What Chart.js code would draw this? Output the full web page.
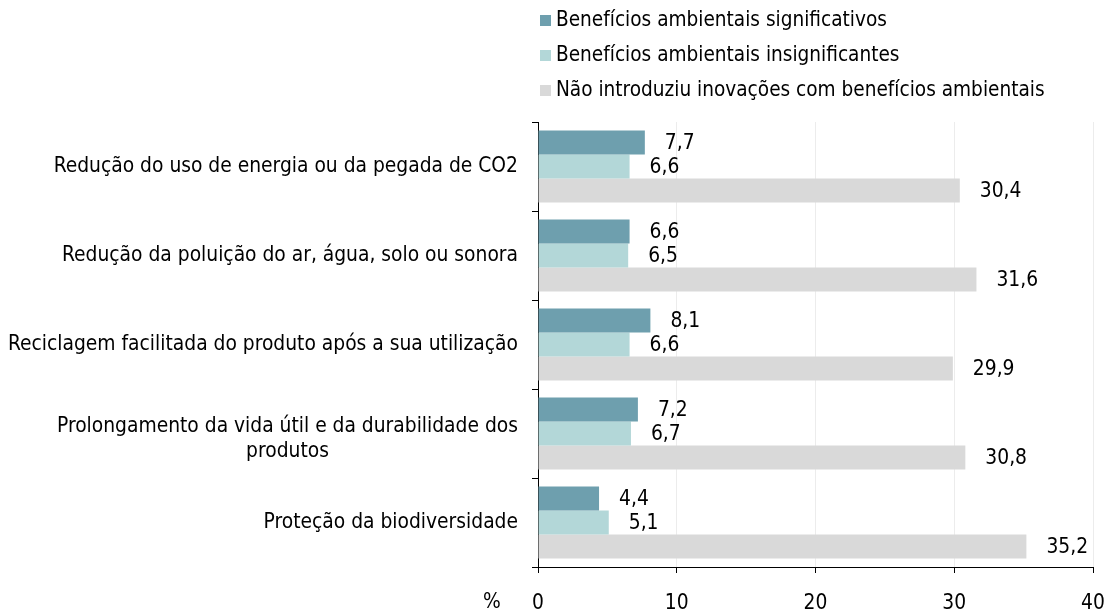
<!DOCTYPE html>
<html><head><meta charset="utf-8">
<script src="https://cdn.jsdelivr.net/npm/chart.js@4.4.1/dist/chart.umd.min.js"></script>
<style>html,body{margin:0;padding:0;background:#fff;}#wrap{width:1108px;height:611px;position:relative;}</style>
</head><body><div id="wrap"><canvas id="c" width="1108" height="611"></canvas></div>
<script>
const categories = [
  ["Redução do uso de energia ou da pegada de CO2"],
  ["Redução da poluição do ar, água, solo ou sonora"],
  ["Reciclagem facilitada do produto após a sua utilização"],
  ["Prolongamento da vida útil e da durabilidade dos", "produtos"],
  ["Proteção da biodiversidade"]
];
const seriesNames = [
  "Benefícios ambientais significativos",
  "Benefícios ambientais insignificantes",
  "Não introduziu inovações com benefícios ambientais"
];
const significativos = [7.7, 6.6, 8.1, 7.2, 4.4];
const insignificantes = [6.6, 6.5, 6.6, 6.7, 5.1];
const naoIntroduziu = [30.4, 31.6, 29.9, 30.8, 35.2];
const xTicks = [0, 10, 20, 30, 40];
const axisUnit = "%";

const colors = ["#6e9fae", "#b3d7d8", "#d9d9d9"];
const FONT = "'DejaVu Sans Condensed', 'DejaVu Sans', sans-serif";
const FS = 20.8;
const LFS = 20.6;

const drawPlugin = {
  id: 'drawPlugin',
  afterDatasetsDraw(chart) {
    const ctx = chart.ctx;
    ctx.save();
    ctx.font = FS + 'px ' + FONT;
    ctx.fillStyle = '#000';
    // value labels
    chart.data.datasets.forEach((ds, di) => {
      const meta = chart.getDatasetMeta(di);
      meta.data.forEach((bar, i) => {
        ctx.textAlign = 'left';
        ctx.textBaseline = 'middle';
        ctx.fillText(ds.data[i].toFixed(1).replace('.', ','), bar.x + 20, bar.y + 1);
      });
    });
    // category labels (multi-line centred block, right edge at axis)
    const ys = chart.scales.y;
    const right = ys.right - 20;
    const lh = 25;
    categories.forEach((lines, i) => {
      const yc = ys.getPixelForTick(i);
      const w = Math.max(...lines.map(l => ctx.measureText(l).width));
      const cx = right - w / 2;
      const y0 = lines.length > 1 ? yc - 6.5 : yc;
      ctx.textAlign = 'center';
      ctx.textBaseline = 'middle';
      lines.forEach((l, k) => ctx.fillText(l, cx, y0 + k * lh));
    });
    // unit label
    const xs = chart.scales.x;
    ctx.textAlign = 'center';
    ctx.textBaseline = 'middle';
    ctx.fillText(axisUnit, xs.left - 46, 603);
    // legend
    ctx.font = LFS + 'px ' + FONT;
    const lx = 540, rows = [20, 55, 90];
    seriesNames.forEach((n, k) => {
      ctx.fillStyle = colors[k];
      ctx.fillRect(lx, rows[k] - 5, 11, 11);
      ctx.fillStyle = '#000';
      ctx.textAlign = 'left';
      ctx.fillText(n, lx + 16, rows[k] + 1);
    });
    ctx.restore();
  }
};

new Chart(document.getElementById('c'), {
  type: 'bar',
  data: {
    labels: categories,
    datasets: [
      { label: seriesNames[0], data: significativos, backgroundColor: colors[0] },
      { label: seriesNames[1], data: insignificantes, backgroundColor: colors[1] },
      { label: seriesNames[2], data: naoIntroduziu, backgroundColor: colors[2] }
    ]
  },
  options: {
    indexAxis: 'y',
    responsive: false,
    animation: false,
    devicePixelRatio: 1,
    layout: { padding: { top: 122, right: 15, left: 0, bottom: 0 } },
    datasets: { bar: { categoryPercentage: 0.81, barPercentage: 1.0 } },
    plugins: { legend: { display: false }, tooltip: { enabled: false } },
    scales: {
      x: {
        min: 0, max: 40,
        afterBuildTicks(s) { s.ticks = xTicks.map(v => ({ value: v })); },
        afterFit(s) { s.height = 44; s.paddingRight = 0; s.paddingLeft = 0; },
        ticks: { font: { family: FONT, size: FS }, color: '#000', padding: 18 },
        grid: { color: '#ececec', tickColor: '#000', tickLength: 6 },
        border: { color: '#000', width: 1 }
      },
      y: {
        afterFit(s) { s.width = 538; s.paddingTop = 0; s.paddingBottom = 0; },
        ticks: { display: false },
        grid: { offset: true, drawOnChartArea: false, color: '#000', tickColor: '#000', tickLength: 6 },
        border: { color: '#000', width: 1 }
      }
    }
  },
  plugins: [drawPlugin]
});
</script>
</body></html>
